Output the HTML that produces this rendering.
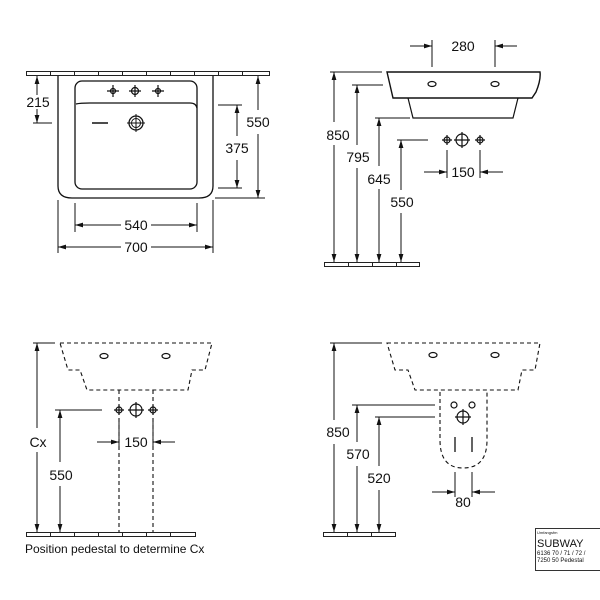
<!DOCTYPE html>
<html><head><meta charset="utf-8"><style>html,body{margin:0;padding:0;background:#fff}svg{display:block}</style></head><body>
<svg width="600" height="600" viewBox="0 0 600 600" xmlns="http://www.w3.org/2000/svg" font-family="Liberation Sans, Arial, sans-serif">
<defs>
<marker id="a" viewBox="0 0 10 6" refX="10" refY="3" markerWidth="8" markerHeight="5" orient="auto-start-reverse"><path d="M0,0L10,3L0,6z" fill="#111"/></marker>
</defs>
<g stroke="#111" stroke-width="1" fill="none">
<!-- floor/wall bars -->
<g stroke="#222" stroke-width="1">
<rect x="26.5" y="71.5" width="243" height="4"/>
<path d="M50.5,71v5M74.5,71v5M98.5,71v5M122.5,71v5M146.5,71v5M170.5,71v5M194.5,71v5M218.5,71v5M242.5,71v5"/>
<rect x="324.5" y="262.5" width="95" height="4"/>
<path d="M348.5,262v5M372.5,262v5M396.5,262v5"/>
<rect x="26.5" y="532.5" width="169" height="4"/>
<path d="M50.5,532v5M74.5,532v5M98.5,532v5M122.5,532v5M146.5,532v5M170.5,532v5"/>
<rect x="323.5" y="532.5" width="72" height="4"/>
<path d="M347.5,532v5M371.5,532v5"/>
</g>
<!-- TOP LEFT -->
<path d="M58,76 V186 Q58,198 72,198 H199 Q213,198 213,186 V76" stroke-width="1.3"/>
<rect x="75" y="81" width="122" height="108" rx="7" stroke-width="1.3"/>
<path d="M76,104 Q80,103 90,103 H190 Q196,103 197,108" stroke-width="1.3"/>
<g stroke-width="1.2"><circle cx="113" cy="91" r="2.5"/><path d="M107,91h12M113,85v12"/><circle cx="135" cy="91" r="3.5"/><path d="M129,91h12M135,85v12"/><circle cx="158" cy="91" r="2.5"/><path d="M152,91h12M158,85v12"/></g>
<circle cx="136" cy="123" r="7" stroke-width="1.3"/><circle cx="136" cy="123" r="4.5"/><path d="M127,123h18M136,114v18"/>
<path d="M92,123h16" stroke-width="1.5"/>
<path d="M33,123h19"/>
<path d="M37,76V95M37,109V123" marker-start="url(#a)" marker-end="url(#a)"/>
<path d="M258,76V110M258,134V198" marker-start="url(#a)" marker-end="url(#a)"/>
<path d="M215,198h50"/>
<path d="M218,105h24M218,188h24"/>
<path d="M237,105V136M237,160V188" marker-start="url(#a)" marker-end="url(#a)"/>
<path d="M75,203v29M197,203v29"/>
<path d="M75,225H121M151,225H197" marker-start="url(#a)" marker-end="url(#a)"/>
<path d="M58,200v53M213,200v53"/>
<path d="M58,247H121M151,247H213" marker-start="url(#a)" marker-end="url(#a)"/>
<!-- TOP RIGHT -->
<path d="M387,72 H540 Q541,80 536,92 L532,98 H393 Z" stroke-width="1.4"/>
<path d="M408,98 L413,118 H513 L518,98" stroke-width="1.2"/>
<g stroke-width="1.2"><ellipse cx="432" cy="84" rx="4" ry="2.5"/><ellipse cx="495" cy="84" rx="4" ry="2.5"/></g>
<path d="M432,40v27M495,40v27"/>
<path d="M410,46h22" marker-end="url(#a)"/><path d="M517,46h-22" marker-end="url(#a)"/>
<path d="M330,72h52M352,85h31M375,118h35M397,140h31"/>
<path d="M334,72V122M334,145V262" marker-start="url(#a)" marker-end="url(#a)"/>
<path d="M357,85V145M357,168V262" marker-start="url(#a)" marker-end="url(#a)"/>
<path d="M379,118V166M379,189V262" marker-start="url(#a)" marker-end="url(#a)"/>
<path d="M401,140V190M401,213V262" marker-start="url(#a)" marker-end="url(#a)"/>
<g stroke-width="1.2">
<circle cx="447" cy="140" r="3"/><path d="M442,140h10M447,135v10"/>
<circle cx="462" cy="140" r="6"/><path d="M454,140h16M462,132v16"/>
<circle cx="480" cy="140" r="3"/><path d="M475,140h10M480,135v10"/>
</g>
<path d="M447,150v28M480,150v28"/>
<path d="M424,172h23" marker-end="url(#a)"/><path d="M503,172h-23" marker-end="url(#a)"/>
<!-- BOTTOM LEFT -->
<g stroke-dasharray="4,3" stroke-width="1.1">
<path d="M60,343H212L205,370H192L188,390H87L80,370H68Z"/>
<path d="M119,390V532M153,390V532"/>
</g>
<ellipse cx="104" cy="356" rx="4" ry="2.5" stroke-width="1.2"/><ellipse cx="166" cy="356" rx="4" ry="2.5" stroke-width="1.2"/>
<path d="M33,343h22M55,410h47"/>
<path d="M37,343V428M37,452V532" marker-start="url(#a)" marker-end="url(#a)"/>
<path d="M60,410V462M60,486V532" marker-start="url(#a)" marker-end="url(#a)"/>
<g stroke-width="1.2">
<circle cx="119" cy="410" r="3"/><path d="M114,410h10M119,405v10"/>
<circle cx="136" cy="410" r="6"/><path d="M128,410h16M136,402v16"/>
<circle cx="153" cy="410" r="3"/><path d="M148,410h10M153,405v10"/>
</g>
<path d="M119,420v28M153,420v28"/>
<path d="M97,442h22" marker-end="url(#a)"/><path d="M175,442h-22" marker-end="url(#a)"/>
<!-- BOTTOM RIGHT -->
<g stroke-dasharray="4,3" stroke-width="1.1">
<path d="M387,343H540L535,370H522L518,390H415L408,370H395Z"/>
<path d="M440,392 V440 Q440,468 463,468 Q487,468 487,440 V392"/>
</g>
<g stroke-width="1.2">
<ellipse cx="433" cy="355" rx="4" ry="2.5"/><ellipse cx="495" cy="355" rx="4" ry="2.5"/>
<circle cx="454" cy="405" r="3"/><circle cx="472" cy="405" r="3"/>
<circle cx="463" cy="417" r="6"/><path d="M455,417h16M463,409v16"/>
</g>
<path d="M455,437v15M472,437v15" stroke-width="1.3"/>
<path d="M455,472v25M472,472v25"/>
<path d="M432,492h23" marker-end="url(#a)"/><path d="M495,492h-23" marker-end="url(#a)"/>
<path d="M330,343h52M352,405h83M375,417h60"/>
<path d="M334,343V420M334,444V532" marker-start="url(#a)" marker-end="url(#a)"/>
<path d="M357,405V442M357,466V532" marker-start="url(#a)" marker-end="url(#a)"/>
<path d="M379,417V466M379,490V532" marker-start="url(#a)" marker-end="url(#a)"/>
<!-- title block -->
<rect x="535.5" y="528.5" width="70" height="42" stroke="#333"/>
</g>
<g fill="#111" font-size="14" text-anchor="middle">
<text x="38" y="107">215</text>
<text x="258" y="127">550</text>
<text x="237" y="153">375</text>
<text x="136" y="230">540</text>
<text x="136" y="252">700</text>
<text x="463" y="51">280</text>
<text x="338" y="140">850</text>
<text x="358" y="162">795</text>
<text x="379" y="184">645</text>
<text x="402" y="207">550</text>
<text x="463" y="177">150</text>
<text x="38" y="447">Cx</text>
<text x="61" y="480">550</text>
<text x="136" y="447">150</text>
<text x="338" y="437">850</text>
<text x="358" y="459">570</text>
<text x="379" y="483">520</text>
<text x="463" y="507">80</text>
</g>
<text x="25" y="553" font-size="12" fill="#111">Position pedestal to determine Cx</text>
<text x="537" y="534" font-size="4" fill="#111">Umfangsfm</text>
<text x="537" y="547" font-size="11" fill="#111">SUBWAY</text>
<text x="537" y="555" font-size="6" fill="#111">6136 70 / 71 / 72 /</text>
<text x="537" y="562" font-size="6" fill="#111">7250 50 Pedestal</text>
</svg>
</body></html>
